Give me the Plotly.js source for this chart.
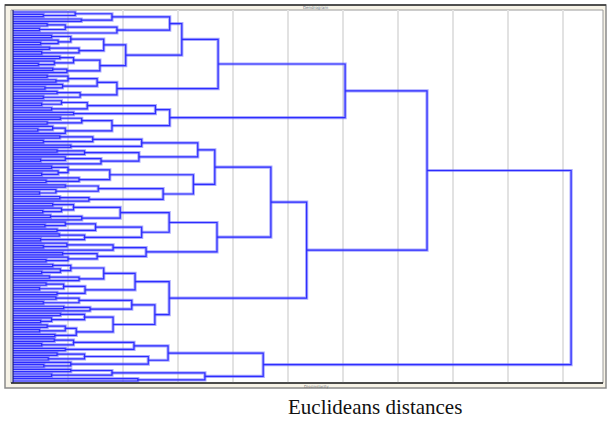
<!DOCTYPE html>
<html>
<head>
<meta charset="utf-8">
<script src="https://cdn.plot.ly/plotly-3.0.1.min.js"></script>
<style>html,body{margin:0;padding:0;background:#fff;}#chart{width:611px;height:423px;}</style>
</head>
<body>
<div id="chart"></div>
<script>
// Dendrogram (Euclidean distance). A node is [height, upperChild, lowerChild]; 0 is a leaf.
const c1 = [2.85, [1.80, [1.13,0,[0.55,0,0]], [1.24,0,0]], [1.89, [0.95,[0.62,0,0],[0.48,0,0]], 0]];
const c2 = [2.05, [1.65, [1.05,[0.70,0,0],[0.82,0,[0.50,0,0]]], [1.20,[0.66,0,0],[0.52,0,0]]],
                  [1.58, [1.10,[0.85,0,0],[0.75,0,[0.46,0,0]]], [0.98,[0.72,0,0],0]]];
const A1a2 = [1.89, [1.53, [1.00,[0.62,0,0],[0.78,0,0]], [0.90,0,[0.58,0,0]]], [1.22,[0.80,0,0],[0.55,0,0]]];
const b1 = [2.59, [1.35,[0.88,0,[0.52,0,0]],[0.70,0,0]], [1.10,0,0]];
const b2 = [1.80, [1.25,[0.86,0,0],[0.62,0,0]], [0.95,[0.72,0,[0.45,0,0]],0]];
const A2a1u = [3.36, [2.34,[1.45,[0.85,0,0],[0.55,0,0]],[1.05,0,0]], [2.29,[1.30,[0.80,0,0],0],[1.60,[0.95,0,[0.50,0,0]],0]]];
const A2a1l = [3.28, [1.76,[1.00,[0.70,0,0],[0.82,0,[0.52,0,0]]],[1.20,0,[0.60,0,0]]], [2.73,[1.55,[0.95,0,0],[0.78,0,[0.48,0,0]]],[1.38,[0.85,0,0],0]]];
const A2a2u = [2.84, [1.95,[1.10,[0.72,0,0],[0.88,0,[0.54,0,0]]],[1.25,[0.68,0,0],0]], [2.34,[1.50,[0.95,0,[0.58,0,0]],[0.80,0,0]],[1.30,[0.84,0,0],[0.50,0,0]]]];
const A2a2l = [2.42, [1.82,[0.98,0,[0.55,0,0]],0], [1.53,[0.90,0,0],[1.00,0,[0.60,0,0]]]];
const A2bu = [2.22, [1.65,[1.05,[0.72,0,0],[0.86,0,[0.52,0,0]]],[1.20,[0.66,0,0],0]], [1.31,[0.92,[0.60,0,0],[0.48,0,0]],[0.80,0,0]]];
const A2bl = [2.58, [2.16,[1.20,[0.78,0,0],[0.55,0,0]],[1.40,[0.92,0,0],0]], [1.82,[1.30,[0.86,0,0],[0.70,0,[0.50,0,0]]],[1.15,[0.95,[0.62,0,0],[0.48,0,0]],[0.76,0,0]]]];
const B1 = [2.82, [2.20,[1.10,[0.75,0,0],[0.52,0,0]],[0.95,0,0]], [2.46,[1.30,[0.80,0,0],[0.64,0,0]],[1.05,0,[0.56,0,0]]]];
const B2 = [3.49, [1.80,[1.05,0,0],[0.70,0,0]], [2.27,0,0]];
// upper levels: [height, upper, lower]
const A1a1 = [3.07, c1, c2];
const A1a = [3.73, A1a1, A1a2];
const A1b = [2.85, b1, b2];
const A1 = [6.04, A1a, A1b];
const A2a1 = [3.67, A2a1u, A2a1l];
const A2a2 = [3.71, A2a2u, A2a2l];
const A2a = [4.69, A2a1, A2a2];
const A2b = [2.84, A2bu, A2bl];
const A2 = [5.34, A2a, A2b];
const A = [7.53, A1, A2];
const B = [4.55, B1, B2];
const root = [10.15, A, B];

const xTitle = "Euclideans distances";
const chartTitle = "Dendrogram";
const axisLabel = "Dissimilarity";

// ---- layout of the tree ----
const st = {i:0, xs:[], ys:[]};
function walk(node){
  if(node === 0){ return {x:0, y:st.i++}; }
  const a = walk(node[1]), b = walk(node[2]);
  const h = node[0];
  st.xs.push(a.x, h, h, b.x, null);
  st.ys.push(a.y, a.y, b.y, b.y, null);
  return {x:h, y:(a.y+b.y)/2};
}
walk(root);
const N = st.i;

// plot area geometry (px)
const L = 13, R = 603, T = 10, Bt = 383, W = 611, H = 423;
const s = 369/(N-1);         // px per leaf
const pad = 2/s;
const px = v => (v - L)/(R - L);
const py = v => (Bt - v)/(Bt - T);

const traces = [
  {type:'scatter', mode:'lines', x:st.xs, y:st.ys, hoverinfo:'skip',
   line:{color:'rgba(100,100,255,0.55)', width:3.2}, connectgaps:false},
  {type:'scatter', mode:'lines', x:st.xs, y:st.ys, hoverinfo:'skip',
   line:{color:'rgb(45,45,255)', width:1.2}, connectgaps:false}
];

const layout = {
  width:W, height:H,
  margin:{l:L, r:W-R, t:T, b:H-Bt},
  paper_bgcolor:'#ffffff', plot_bgcolor:'#ffffff',
  showlegend:false,
  xaxis:{range:[0,10.73], dtick:1, tick0:0, showgrid:true, gridcolor:'#e2e2e2', gridwidth:1.5,
         zeroline:false, showticklabels:false, ticks:'', showline:false, fixedrange:true},
  yaxis:{range:[N-1+pad, -pad], showgrid:false, zeroline:false, showticklabels:false,
         ticks:'', showline:false, fixedrange:true},
  shapes:[
    {type:'rect', xref:'paper', yref:'paper', layer:'below', x0:px(5), x1:px(606), y0:py(388), y1:py(5),
     fillcolor:'#f7f3e7', line:{color:'#8a8a8a', width:1.5}},
    {type:'line', xref:'paper', yref:'paper', layer:'below', x0:px(5), x1:px(606), y0:py(5), y1:py(5),
     line:{color:'#333', width:1.5}},
    {type:'rect', xref:'paper', yref:'paper', layer:'below', x0:px(11), x1:px(603), y0:py(383), y1:py(10),
     fillcolor:'#ffffff', line:{color:'#9a9a9a', width:1}},
    {type:'line', xref:'paper', yref:'paper', layer:'above', x0:px(11), x1:px(603), y0:0, y1:0,
     line:{color:'#222', width:1.5}},
    {type:'line', xref:'paper', yref:'paper', layer:'above', x0:0, x1:0, y0:0, y1:1,
     line:{color:'#1a1a6a', width:1.2}}
  ],
  annotations:[
    {text:xTitle, xref:'paper', yref:'paper', x:px(375), y:py(407), showarrow:false,
     xanchor:'center', yanchor:'middle', font:{family:'Liberation Serif, Times New Roman, serif', size:21, color:'#111'}},
    {text:chartTitle, xref:'paper', yref:'paper', x:px(315), y:py(7.5), showarrow:false,
     xanchor:'center', yanchor:'middle', font:{family:'DejaVu Sans', size:4, color:'#6a7a8a'}},
    {text:axisLabel, xref:'paper', yref:'paper', x:px(316), y:py(386), showarrow:false,
     xanchor:'center', yanchor:'middle', font:{family:'DejaVu Sans', size:4, color:'#777'}}
  ]
};
Plotly.newPlot('chart', traces, layout, {displayModeBar:false, staticPlot:true});
</script>
</body>
</html>
